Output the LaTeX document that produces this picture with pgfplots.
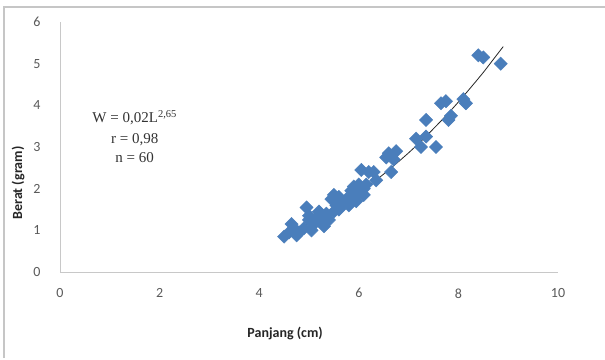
\documentclass[border=0pt]{standalone}
\usepackage{fontspec}
\setmainfont{Carlito}
\newfontfamily\tnr{Liberation Serif}
\usepackage{pgfplots}
\pgfplotsset{compat=1.18}
\definecolor{xlblue}{RGB}{74,126,187}
\definecolor{axgray}{RGB}{200,200,200}
\definecolor{tkgray}{RGB}{90,90,90}
\begin{document}
\begin{tikzpicture}[x=1pt,y=1pt]
\path[use as bounding box] (0,0) rectangle (605,359);
\fill[white] (0,0) rectangle (605,359);
\draw[gray!45, line width=1.3pt] (4,1) -- (4,352) -- (605,352);
\begin{axis}[
  at={(60pt,87pt)}, anchor=south west,
  scale only axis, width=498pt, height=250pt,
  xmin=0, xmax=10, ymin=0, ymax=6,
  xtick={0,2,...,10}, ytick={0,1,...,6},
  axis x line=bottom, axis y line=left,
  axis line style={axgray, line width=1pt, -},
  major tick length=0pt,
  tick label style={font=\fontsize{14}{16}\selectfont, text=tkgray},
  /pgf/number format/assume math mode=true,
  xticklabel style={yshift=-13pt},
  yticklabel style={xshift=-16pt},
  clip=false,
]
\addplot[only marks, mark=square*, mark size=4.7pt,
  mark options={rotate=45, fill=xlblue, draw=xlblue}]
coordinates {
(4.5,0.85)(4.6,0.95)(4.65,1.15)(4.7,1.05)(4.75,0.88)(4.8,0.95)(4.9,1.05)(4.95,1.55)(5.0,1.25)(5.0,1.35)
(5.05,1.0)(5.1,1.15)(5.15,1.3)(5.2,1.45)(5.25,1.2)(5.3,1.35)(5.3,1.1)(5.35,1.4)(5.4,1.25)(5.45,1.75)
(5.5,1.85)(5.5,1.45)(5.55,1.6)(5.6,1.5)(5.6,1.8)(5.7,1.65)(5.75,1.75)(5.8,1.6)(5.85,1.95)(5.9,2.05)
(5.9,1.8)(5.95,1.7)(6.0,2.1)(6.0,1.9)(6.05,2.45)(6.1,2.0)(6.1,1.85)(6.15,2.1)(6.2,2.4)(6.3,2.4)
(6.35,2.2)(6.55,2.75)(6.6,2.85)(6.65,2.4)(6.7,2.7)(6.75,2.9)(7.15,3.2)(7.25,3.0)(7.35,3.25)(7.35,3.65)
(7.55,3.0)(7.65,4.05)(7.75,4.1)(7.8,3.65)(7.85,3.75)(8.15,4.05)(8.1,4.15)(8.4,5.2)(8.5,5.15)(8.85,5.0)
};
\addplot[black!85, line width=0.8pt, smooth, no marks]
coordinates {
(4.5,0.89)(4.75,1.02)(5.0,1.18)(5.25,1.34)(5.5,1.51)(5.75,1.70)(6.0,1.90)(6.25,2.12)(6.5,2.35)
(6.75,2.60)(7.0,2.86)(7.25,3.14)(7.5,3.44)(7.75,3.75)(8.0,4.08)(8.25,4.43)(8.5,4.79)(8.7,5.10)(8.9,5.41)
};
\node[font=\tnr\fontsize{15}{17}\selectfont, text=black!80] at (axis cs:1.5,3.70) {W = 0,02L\textsuperscript{2,65}};
\node[font=\tnr\fontsize{15}{17}\selectfont, text=black!80] at (axis cs:1.5,3.17) {r = 0,98};
\node[font=\tnr\fontsize{15}{17}\selectfont, text=black!80] at (axis cs:1.5,2.74) {n = 60};
\node[font=\bfseries\fontsize{14}{16}\selectfont, text=black!85] at (rel axis cs:0.452,-0.244) {Panjang (cm)};
\node[font=\bfseries\fontsize{14}{16}\selectfont, text=black!85, rotate=90] at (rel axis cs:-0.084,0.356) {Berat (gram)};
\end{axis}
\end{tikzpicture}
\end{document}
